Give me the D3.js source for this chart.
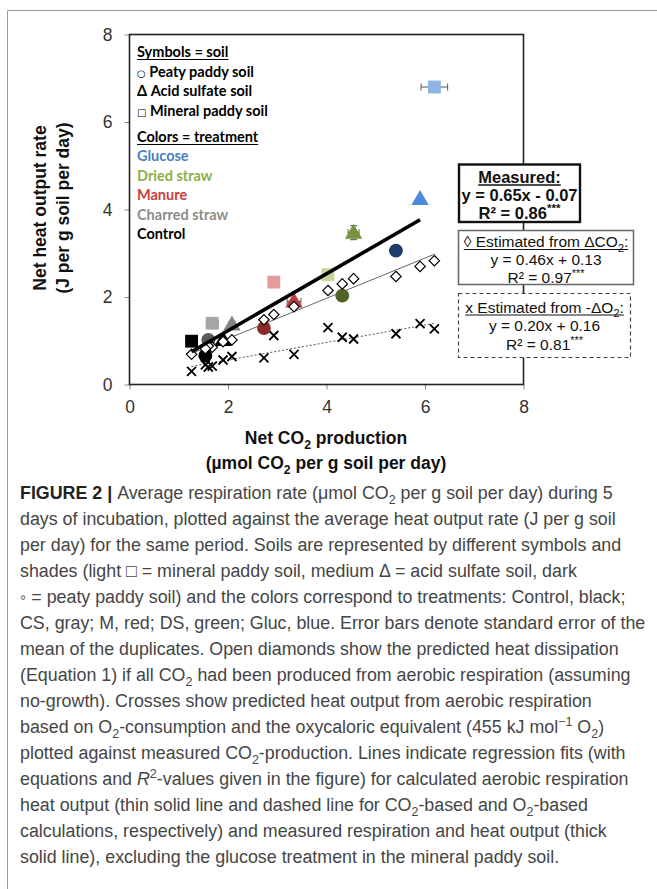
<!DOCTYPE html>
<html>
<head>
<meta charset="utf-8">
<script src="https://cdn.jsdelivr.net/npm/d3@7"></script>
<style>
  body { margin: 0; background: #fff; }
  svg { display: block; }
</style>
</head>
<body>
<svg id="fig" width="657" height="889"></svg>
<script>
// ---------------- data ----------------
const treatments = ["Glucose", "Dried straw", "Manure", "Charred straw", "Control"];
const soils = ["Mineral paddy soil", "Acid sulfate soil", "Peaty paddy soil"];

// one entry per treatment x soil combination
const pointTreatment = [0, 0, 0, 1, 1, 1, 2, 2, 2, 3, 3, 3, 4, 4, 4];
const pointSoil      = [0, 1, 2, 0, 1, 2, 0, 1, 2, 0, 1, 2, 0, 1, 2];
// net CO2 production (umol CO2 per g soil per day)
const netCO2   = [6.19, 5.90, 5.41, 4.03, 4.55, 4.32, 2.93, 3.34, 2.73, 1.68, 2.08, 1.60, 1.26, 1.90, 1.54];
// measured net heat output (J per g soil per day)
const netHeat  = [6.80, 4.24, 3.06, 2.51, 3.47, 2.03, 2.34, 1.90, 1.29, 1.40, 1.37, 1.02, 0.99, 1.02, 0.66];
// standard errors
const co2Err   = [0.27, 0.00, 0.00, 0.00, 0.11, 0.00, 0.00, 0.14, 0.00, 0.12, 0.00, 0.00, 0.00, 0.00, 0.00];
const heatErr  = [0.00, 0.00, 0.00, 0.00, 0.16, 0.00, 0.00, 0.00, 0.00, 0.00, 0.06, 0.00, 0.00, 0.00, 0.00];
// heat estimated from CO2 (open diamonds) and from O2 consumption (crosses)
const heatFromCO2 = [2.83, 2.70, 2.47, 2.15, 2.42, 2.30, 1.60, 1.78, 1.48, 0.85, 1.02, 0.88, 0.69, 0.98, 0.82];
const heatFromO2  = [1.27, 1.39, 1.16, 1.30, 1.04, 1.08, 1.12, 0.69, 0.61, 0.42, 0.64, 0.40, 0.30, 0.56, 0.45];

// colours: rows = treatment, columns = soil (light, medium, dark)
const markerColors = [
  ["#8EB4E3", "#4A8AD8", "#1F3D6B"],
  ["#C4D79B", "#77933C", "#4F6228"],
  ["#E39C9B", "#BE3B3A", "#8B2A2A"],
  ["#A6A6A6", "#858585", "#5A5A5A"],
  ["#000000", "#000000", "#000000"]
];
const legendColors = ["#4A7FC1", "#8DB04A", "#C8403D", "#8C8C8C", "#000000"];

// regression fits: slope, intercept, x-range
const fitMeasured = { slope: 0.65, intercept: -0.07, from: 1.26, to: 5.90 };
const fitCO2      = { slope: 0.46, intercept: 0.13,  from: 1.26, to: 6.20 };
const fitO2       = { slope: 0.20, intercept: 0.16,  from: 1.26, to: 6.20 };

const xTicks = [0, 2, 4, 6, 8];
const yTicks = [0, 2, 4, 6, 8];

const captionLines = [
  [["FIGURE 2 | ", "b"], ["Average respiration rate (\u03bcmol CO"], ["2", "sub"], [" per g soil per day) during 5"]],
  [["days of incubation, plotted against the average heat output rate (J per g soil"]],
  [["per day) for the same period. Soils are represented by different symbols and"]],
  [["shades (light \u25a1 = mineral paddy soil, medium \u0394 = acid sulfate soil, dark"]],
  [["\u25e6 =  peaty paddy soil) and the colors correspond to treatments: Control, black;"]],
  [["CS, gray; M, red; DS, green; Gluc, blue. Error bars denote standard error of the"]],
  [["mean of the duplicates. Open diamonds show the predicted heat dissipation"]],
  [["(Equation 1) if all CO"], ["2", "sub"], [" had been produced from aerobic respiration (assuming"]],
  [["no-growth). Crosses show predicted heat output from aerobic respiration"]],
  [["based on O"], ["2", "sub"], ["-consumption and the oxycaloric equivalent (455 kJ mol"], ["\u22121", "sup"], [" O"], ["2", "sub"], [")", "base"]],
  [["plotted against measured CO"], ["2", "sub"], ["-production. Lines indicate regression fits (with", "base"]],
  [["equations and "], ["R", "i"], ["2", "sup"], ["-values given in the figure) for calculated aerobic respiration", "base"]],
  [["heat output (thin solid line and dashed line for CO"], ["2", "sub"], ["-based and O", "base"], ["2", "sub"], ["-based", "base"]],
  [["calculations, respectively) and measured respiration and heat output (thick"]],
  [["solid line), excluding the glucose treatment in the mineral paddy soil."]]
];

// ---------------- drawing ----------------
const svg = d3.select("#fig");
const W = 657, H = 889;
svg.append("rect").attr("width", W).attr("height", H).attr("fill", "#fff");

// page frame (left and top edges)
svg.append("path")
  .attr("d", `M7.5,${H} V10.5 H${W}`)
  .attr("fill", "none").attr("stroke", "#9a9a9a").attr("stroke-width", 1);

const plot = { left: 129.5, right: 523.5, top: 34.5, bottom: 384.5 };
const x = d3.scaleLinear().domain([0, 8]).range([plot.left, plot.right]);
const y = d3.scaleLinear().domain([0, 8]).range([plot.bottom, plot.top]);

const sans = "'Liberation Sans', Arial, sans-serif";
const calib = "Lato, 'Open Sans', sans-serif";

// axes
const gx = svg.append("g").attr("transform", `translate(0,${plot.bottom})`)
  .call(d3.axisBottom(x).tickValues(xTicks).tickSize(5).tickPadding(11).tickFormat(d3.format("d")));
const gy = svg.append("g").attr("transform", `translate(${plot.left},0)`)
  .call(d3.axisLeft(y).tickValues(yTicks).tickSize(5).tickPadding(12).tickFormat(d3.format("d")));
[gx, gy].forEach(g => {
  g.select(".domain").remove();
  g.selectAll(".tick line").attr("stroke", "#8a8a8a");
  g.selectAll(".tick text").attr("font-family", sans).attr("font-size", 17.5).attr("fill", "#333");
});

// plot frame
svg.append("rect")
  .attr("x", plot.left).attr("y", plot.top)
  .attr("width", plot.right - plot.left).attr("height", plot.bottom - plot.top)
  .attr("fill", "none").attr("stroke", "#222").attr("stroke-width", 1.6);

// rich text helper: each segment is [text, style]; "sub"/"sup" shift the baseline,
// the next segment moves back to the main baseline
function rich(textSel, segs, size) {
  let shift = 0;
  segs.forEach(([t, s]) => {
    const ts = textSel.append("tspan").text(t);
    let target = 0;
    if (s === "sub") { target = size * 0.3; ts.attr("font-size", size * 0.7); }
    if (s === "sup") { target = -size * 0.38; ts.attr("font-size", size * 0.7); }
    if (s === "b") ts.attr("font-weight", "bold").attr("fill", "#222");
    if (s === "i") ts.attr("font-style", "italic");
    if (target !== shift) { ts.attr("dy", target - shift); shift = target; }
  });
}

// axis titles
const titleSize = 17.5;
const xt = svg.append("text").attr("text-anchor", "middle").attr("x", 326).attr("y", 444)
  .attr("font-family", sans).attr("font-weight", "bold").attr("font-size", titleSize).attr("fill", "#111");
rich(xt, [["Net CO"], ["2", "sub"], [" production", "base"]], titleSize);
const xt2 = svg.append("text").attr("text-anchor", "middle").attr("x", 326).attr("y", 469)
  .attr("font-family", sans).attr("font-weight", "bold").attr("font-size", titleSize).attr("fill", "#111");
rich(xt2, [["(\u00b5mol CO"], ["2", "sub"], [" per g soil per day)", "base"]], titleSize);

const yt = svg.append("g").attr("transform", "translate(46,208) rotate(-90)");
yt.append("text").attr("text-anchor", "middle").attr("font-family", sans).attr("font-weight", "bold")
  .attr("font-size", titleSize).attr("fill", "#111").attr("y", 0).text("Net heat output rate");
yt.append("text").attr("text-anchor", "middle").attr("font-family", sans).attr("font-weight", "bold")
  .attr("font-size", titleSize).attr("fill", "#111").attr("y", 22.5).text("(J per g soil per day)");

// legend (inside the plot)
const leg = svg.append("g").attr("font-family", calib).attr("font-weight", "bold").attr("font-size", 14.5);
function legendLine(yy, txt, color, underline) {
  const t = leg.append("text").attr("x", 137).attr("y", yy).attr("fill", color).text(txt);
  if (underline) {
    const w = t.node().getComputedTextLength();
    leg.append("line").attr("x1", 137).attr("x2", 137 + w).attr("y1", yy + 2.5).attr("y2", yy + 2.5)
      .attr("stroke", color).attr("stroke-width", 1.2);
  }
  return t;
}
legendLine(57, "Symbols = soil", "#000", true);
const symRows = [["\u25cb", soils[2], 77], ["\u0394", soils[1], 96], ["\u25a1", soils[0], 116]];
symRows.forEach(([g, label, yy]) => {
  const t = leg.append("text").attr("x", 137).attr("y", yy).attr("fill", "#000");
  t.append("tspan").attr("font-size", g === "\u0394" ? 14.5 : 10).attr("font-weight", g === "\u0394" ? "bold" : "normal")
    .attr("font-family", g === "\u0394" ? calib : "'DejaVu Sans'").text(g);
  t.append("tspan").text(" " + label);
});
legendLine(142, "Colors = treatment", "#000", true);
treatments.forEach((tname, i) => legendLine(161 + i * 19.5, tname, legendColors[i], false));

// regression lines
function fitLine(f) {
  return [[f.from, f.slope * f.from + f.intercept], [f.to, f.slope * f.to + f.intercept]];
}
const line = d3.line().x(d => x(d[0])).y(d => y(d[1]));
svg.append("path").attr("d", line(fitLine(fitO2))).attr("stroke", "#555").attr("stroke-width", 1)
  .attr("stroke-dasharray", "2,2").attr("fill", "none");
svg.append("path").attr("d", line(fitLine(fitCO2))).attr("stroke", "#666").attr("stroke-width", 1)
  .attr("fill", "none");

// crosses (estimated from O2)
const idx = d3.range(netCO2.length);
svg.append("g").selectAll("path").data(idx).join("path")
  .attr("transform", i => `translate(${x(netCO2[i])},${y(heatFromO2[i])})`)
  .attr("d", "M-4.5,-4.5L4.5,4.5M-4.5,4.5L4.5,-4.5")
  .attr("stroke", "#000").attr("stroke-width", 1.8).attr("fill", "none");

// error bars
const eb = svg.append("g").attr("stroke", "#555").attr("stroke-width", 1);
idx.filter(i => co2Err[i] > 0).forEach(i => {
  const x0 = x(netCO2[i] - co2Err[i]), x1 = x(netCO2[i] + co2Err[i]), yy = y(netHeat[i]);
  eb.append("path").attr("d", `M${x0},${yy}H${x1}M${x0},${yy - 3.5}V${yy + 3.5}M${x1},${yy - 3.5}V${yy + 3.5}`);
});
idx.filter(i => heatErr[i] > 0).forEach(i => {
  const y0 = y(netHeat[i] - heatErr[i]), y1 = y(netHeat[i] + heatErr[i]), xx = x(netCO2[i]);
  eb.append("path").attr("d", `M${xx},${y0}V${y1}M${xx - 3.5},${y0}H${xx + 3.5}M${xx - 3.5},${y1}H${xx + 3.5}`);
});

// measured markers
const shapeFor = [d3.symbolSquare, d3.symbolTriangle, d3.symbolCircle];
const sizeFor = [165, 130, 150];
svg.append("g").selectAll("path").data(idx).join("path")
  .attr("transform", i => `translate(${x(netCO2[i])},${y(netHeat[i]) + (pointSoil[i] === 1 ? 1 : 0)})`)
  .attr("d", i => d3.symbol(shapeFor[pointSoil[i]], sizeFor[pointSoil[i]])())
  .attr("fill", i => markerColors[pointTreatment[i]][pointSoil[i]]);

// diamonds (estimated from CO2)
svg.append("g").selectAll("path").data(idx).join("path")
  .attr("transform", i => `translate(${x(netCO2[i])},${y(heatFromCO2[i])})`)
  .attr("d", "M0,-5.2L5.2,0L0,5.2L-5.2,0Z")
  .attr("stroke", "#000").attr("stroke-width", 1.2).attr("fill", "#fff");

// measured regression (thick)
svg.append("path").attr("d", line(fitLine(fitMeasured))).attr("stroke", "#000").attr("stroke-width", 3.6)
  .attr("fill", "none");

// equation boxes
function eqBox(b) {
  const g = svg.append("g");
  g.append("rect").attr("x", b.x).attr("y", b.y).attr("width", b.w).attr("height", b.h)
    .attr("fill", "#fff").attr("stroke", b.stroke).attr("stroke-width", b.sw)
    .attr("stroke-dasharray", b.dash || null);
  const cx = b.x + b.w / 2;
  b.lines.forEach((segs, k) => {
    const t = g.append("text").attr("x", cx).attr("y", b.y + b.first + k * b.step)
      .attr("text-anchor", "middle").attr("font-family", sans).attr("font-size", b.fs)
      .attr("font-weight", b.bold ? "bold" : "normal").attr("fill", "#111");
    rich(t, segs, b.fs);
    if (k === 0) {
      const bb = t.node().getBBox();
      g.append("line").attr("x1", bb.x).attr("x2", bb.x + bb.width)
        .attr("y1", b.y + b.first + 2.5).attr("y2", b.y + b.first + 2.5)
        .attr("stroke", "#111").attr("stroke-width", b.bold ? 1.6 : 1);
    }
  });
}
const fmt = v => v.toFixed(2);
function eqText(f) {
  return f.intercept < 0
    ? `y = ${fmt(f.slope)}x - ${fmt(-f.intercept)}`
    : `y = ${fmt(f.slope)}x + ${fmt(f.intercept)}`;
}
eqBox({ x: 459, y: 164.5, w: 121, h: 57.5, stroke: "#111", sw: 2.4, bold: true, fs: 16.5, first: 18, step: 18,
  lines: [[["Measured:"]], [[eqText(fitMeasured)]], [["R\u00b2 = 0.86"], ["***", "sup"]]] });
eqBox({ x: 458.5, y: 230.5, w: 175, h: 54, stroke: "#666", sw: 1.5, bold: false, fs: 15.5, first: 16.5, step: 18,
  lines: [[["\u25ca Estimated from \u0394CO"], ["2", "sub"], [":", "base"]], [[eqText(fitCO2)]], [["R\u00b2 = 0.97"], ["***", "sup"]]] });
eqBox({ x: 458.5, y: 293.5, w: 172, h: 64, stroke: "#444", sw: 1.2, dash: "4,3", bold: false, fs: 15.5, first: 19, step: 18.5,
  lines: [[["x Estimated from -\u0394O"], ["2", "sub"], [":", "base"]], [[eqText(fitO2)]], [["R\u00b2 = 0.81"], ["***", "sup"]]] });

// caption
const capSize = 16;
const cap = svg.append("g").attr("font-family", sans).attr("font-size", capSize).attr("fill", "#454545");
captionLines.forEach((segs, k) => {
  const t = cap.append("text").attr("x", 20).attr("y", 499 + k * 26);
  rich(t, segs, capSize);
});
// scale caption so the widest line spans the text column
const widest = d3.max(cap.selectAll("text").nodes(), n => n.getBBox().width);
const s = 626 / widest;
cap.selectAll("text").attr("font-size", capSize * s);
cap.selectAll("tspan").each(function () {
  const el = d3.select(this);
  const fs = el.attr("font-size");
  if (fs) el.attr("font-size", fs * s);
  const dy = el.attr("dy");
  if (dy) el.attr("dy", dy * s);
});
</script>
</body>
</html>
